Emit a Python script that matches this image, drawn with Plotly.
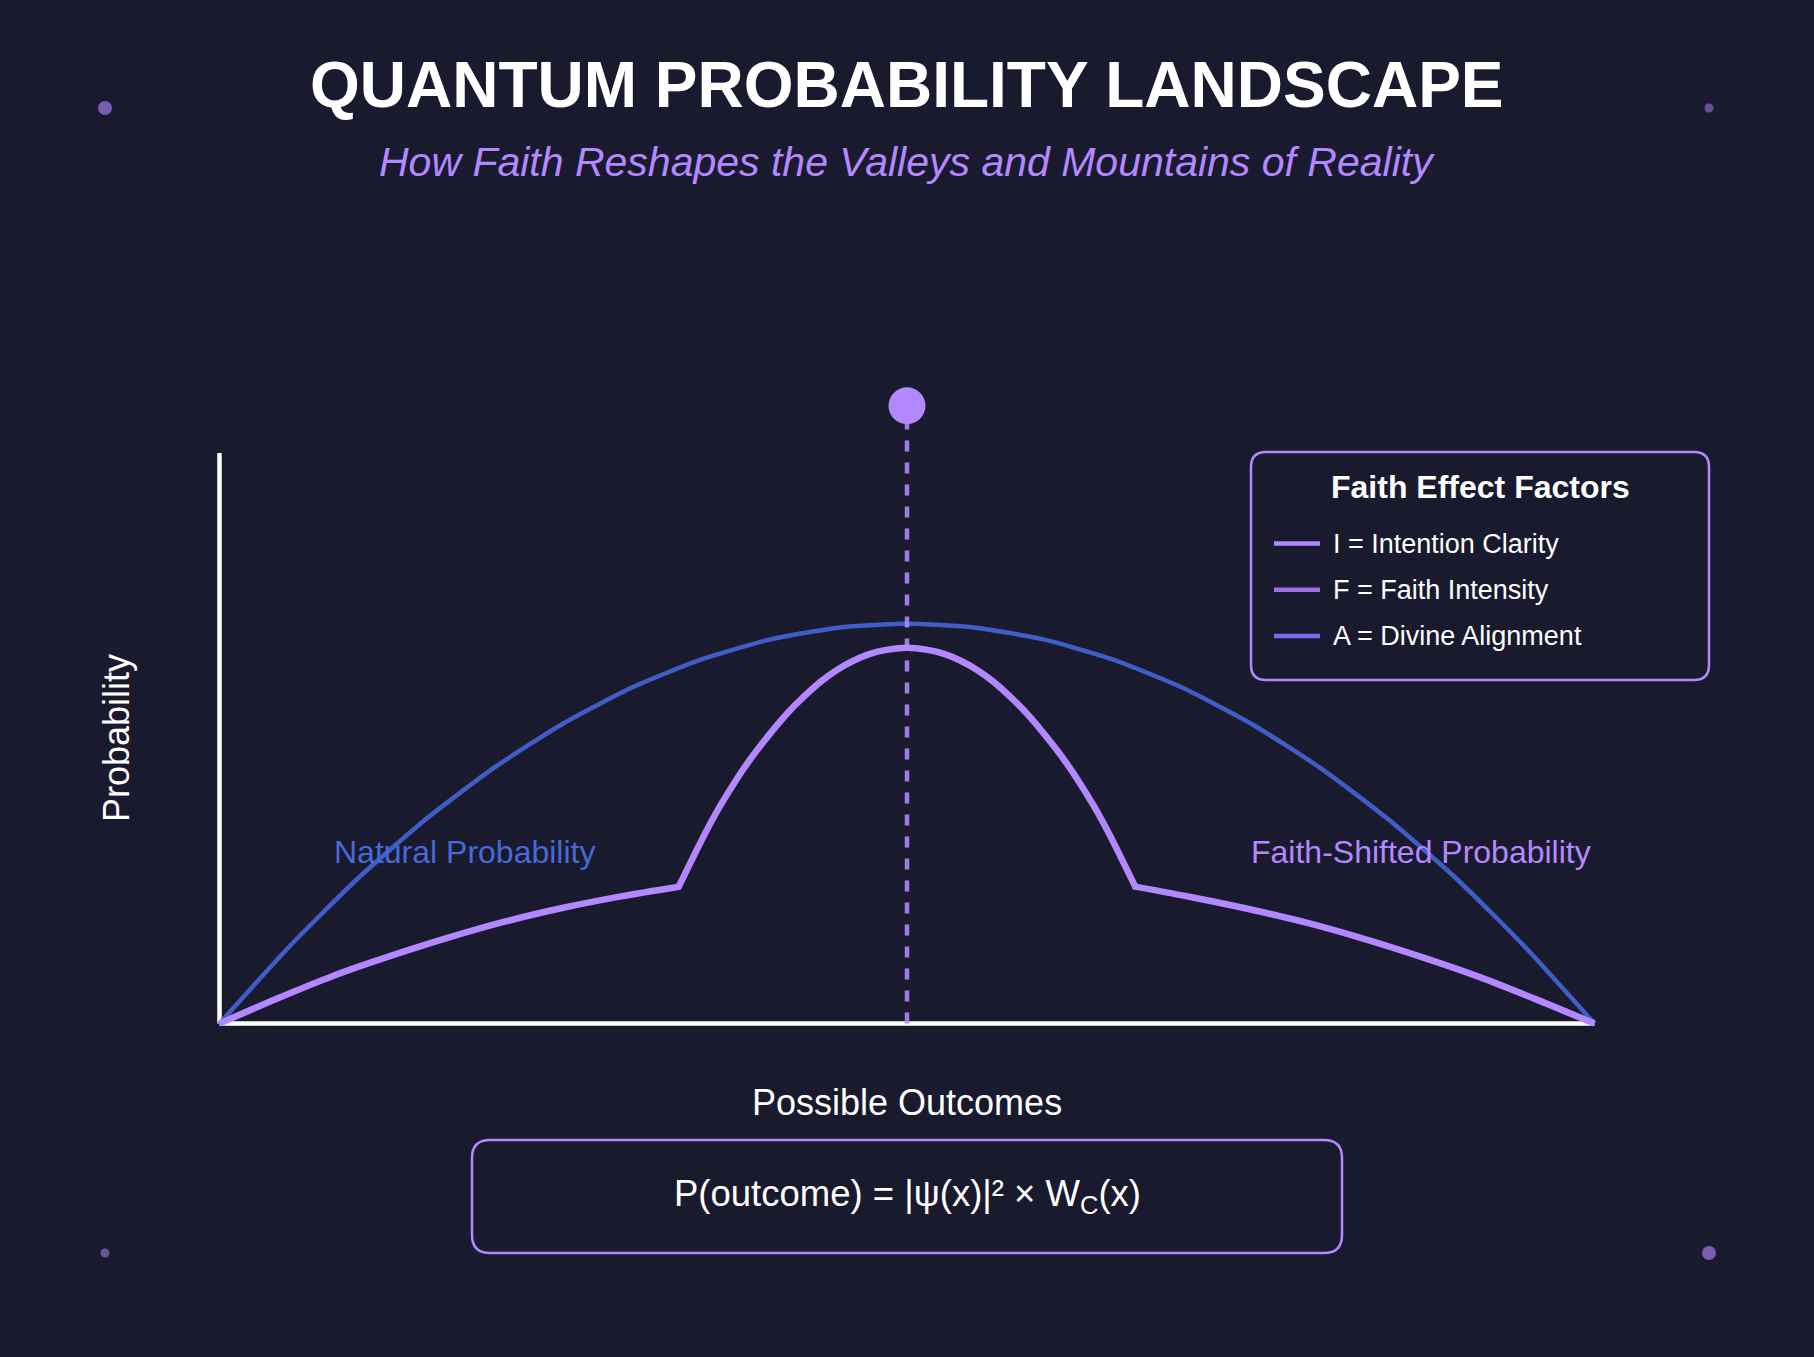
import plotly.graph_objects as go

# ---------------- data ----------------
outcome_x = [0, 5, 10, 15, 20, 25, 30, 35, 40, 45, 50,
             55, 60, 65, 70, 75, 80, 85, 90, 95, 100]
natural_prob = [0, 13.3, 25.3, 35.8, 44.9, 52.6, 58.9, 63.8, 67.3, 69.4, 70.1,
                69.4, 67.3, 63.8, 58.9, 52.6, 44.9, 35.8, 25.3, 13.3, 0]

faith_x = [0, 4.2, 8.3, 12.5, 16.7, 20.8, 25.0, 29.2, 33.4,
           35.2, 36.4, 37.6, 38.8, 40.0, 41.3, 42.5, 43.7, 44.9, 46.1, 47.3, 48.5, 50.0,
           51.5, 52.7, 53.9, 55.1, 56.3, 57.5, 58.7, 60.0, 61.2, 62.4, 63.6, 64.8, 66.6,
           70.8, 75.0, 79.2, 83.3, 87.5, 91.7, 95.8, 100]
faith_prob = [0, 4.4, 8.4, 11.9, 15.1, 17.9, 20.3, 22.3, 24.0,
              32.8, 38.1, 42.8, 47.0, 50.7, 54.4, 57.3, 59.9, 62.0, 63.6, 64.8, 65.5, 65.9,
              65.5, 64.8, 63.6, 62.0, 59.9, 57.3, 54.4, 50.7, 47.0, 42.8, 38.1, 32.8, 24.0,
              22.1, 20.0, 17.6, 14.8, 11.6, 8.1, 4.2, 0]
# indices where the faith curve has sharp kinks (segment boundaries)
faith_kinks = [8, 34]

focus_outcome = 50
focus_level = 108.3

legend_title = "Faith Effect Factors"
legend_labels = ["I = Intention Clarity", "F = Faith Intensity", "A = Divine Alignment"]
legend_colors = ["#b388ff", "#9a73e0", "#7b68ee"]

title_text = "QUANTUM PROBABILITY LANDSCAPE"
subtitle_text = "How Faith Reshapes the Valleys and Mountains of Reality"
formula_text = "P(outcome) = |ψ(x)|² × W<sub>C</sub>(x)"

# ---------------- layout helpers ----------------
W, H = 1814, 1357
ML, MR, MT, MB = 192, 192, 339, 322
PW, PH = W - ML - MR, H - MT - MB
BG = "#1a1a2e"
PURPLE = "#b388ff"
BLUE = "#3f5dc6"
FONT = "Liberation Sans, Arial, Helvetica, sans-serif"


def px(x):
    return (x - ML) / PW


def py(y):
    return (H - MB - y) / PH


def rounded_rect(x0, y0, x1, y1, r):
    pts = [
        ("M", [(x0 + r, y0)]),
        ("L", [(x1 - r, y0)]),
        ("Q", [(x1, y0), (x1, y0 + r)]),
        ("L", [(x1, y1 - r)]),
        ("Q", [(x1, y1), (x1 - r, y1)]),
        ("L", [(x0 + r, y1)]),
        ("Q", [(x0, y1), (x0, y1 - r)]),
        ("L", [(x0, y0 + r)]),
        ("Q", [(x0, y0), (x0 + r, y0)]),
    ]
    s = ""
    for cmd, ps in pts:
        s += cmd + " " + " ".join(f"{px(a):.5f},{py(b):.5f}" for a, b in ps) + " "
    return s + "Z"


fig = go.Figure()

fig.add_trace(go.Scatter(x=outcome_x, y=natural_prob, mode="lines",
                         line=dict(color=BLUE, width=4.5, shape="spline", smoothing=0.6),
                         hoverinfo="skip", showlegend=False))

# faith-shifted curve: smooth segments joined at sharp kinks
bounds = [0] + faith_kinks + [len(faith_x) - 1]
for a, b in zip(bounds[:-1], bounds[1:]):
    fig.add_trace(go.Scatter(x=faith_x[a:b + 1], y=faith_prob[a:b + 1], mode="lines",
                             line=dict(color=PURPLE, width=6.5, shape="spline", smoothing=0.8),
                             hoverinfo="skip", showlegend=False))
fig.add_trace(go.Scatter(x=[faith_x[k] for k in faith_kinks],
                         y=[faith_prob[k] for k in faith_kinks], mode="markers",
                         marker=dict(color=PURPLE, size=6.5, line=dict(width=0)),
                         hoverinfo="skip", showlegend=False))

fig.add_trace(go.Scatter(x=[focus_outcome, focus_outcome], y=[0, focus_level], mode="lines",
                         line=dict(color="rgba(179,136,255,0.88)", width=4.5, dash="11px,11px"),
                         hoverinfo="skip", showlegend=False))
fig.add_trace(go.Scatter(x=[focus_outcome], y=[focus_level], mode="markers",
                         marker=dict(color=PURPLE, size=37, line=dict(width=0)),
                         cliponaxis=False, hoverinfo="skip", showlegend=False))

shapes = []
# axes
shapes.append(dict(type="line", xref="x", yref="y", x0=0, y0=0, x1=0, y1=100,
                   line=dict(color="white", width=4.5), layer="below"))
shapes.append(dict(type="line", xref="x", yref="y", x0=0, y0=0, x1=100, y1=0,
                   line=dict(color="white", width=4.5), layer="below"))
# legend box
shapes.append(dict(type="path", xref="paper", yref="paper",
                   path=rounded_rect(1251, 452, 1709, 680, 15),
                   line=dict(color=PURPLE, width=2.5), fillcolor=BG, layer="below"))
# formula box
shapes.append(dict(type="path", xref="paper", yref="paper",
                   path=rounded_rect(472, 1140, 1342, 1253, 18),
                   line=dict(color=PURPLE, width=2.5), fillcolor=BG, layer="below"))
# legend line samples
for i, c in enumerate(legend_colors):
    yy = 543.5 + i * 46.2
    shapes.append(dict(type="line", xref="paper", yref="paper",
                       x0=px(1274), x1=px(1320), y0=py(yy), y1=py(yy),
                       line=dict(color=c, width=4.5)))
# corner dots
for (cx, cy, r, a) in [(105, 108, 7, 0.62), (1709, 108, 4.5, 0.5),
                       (105, 1253, 4.5, 0.5), (1709, 1253, 7, 0.62)]:
    shapes.append(dict(type="circle", xref="paper", yref="paper",
                       x0=px(cx - r), x1=px(cx + r), y0=py(cy + r), y1=py(cy - r),
                       fillcolor=f"rgba(179,136,255,{a})", line=dict(width=0)))

ann = []
ann.append(dict(text=f"<b>{title_text}</b>", x=px(907), y=py(85), xref="paper", yref="paper",
                showarrow=False, xanchor="center", yanchor="middle",
                font=dict(family=FONT, size=64, color="white")))
ann.append(dict(text=f"<i>{subtitle_text}</i>", x=px(907), y=py(162), xref="paper", yref="paper",
                showarrow=False, xanchor="center", yanchor="middle",
                font=dict(family=FONT, size=41, color=PURPLE)))
ann.append(dict(text="Probability", x=px(116), y=py(738), xref="paper", yref="paper",
                showarrow=False, xanchor="center", yanchor="middle", textangle=-90,
                font=dict(family=FONT, size=36, color="white")))
ann.append(dict(text="Possible Outcomes", x=px(907), y=py(1102), xref="paper", yref="paper",
                showarrow=False, xanchor="center", yanchor="middle",
                font=dict(family=FONT, size=36, color="white")))
ann.append(dict(text=formula_text, x=px(907), y=py(1196), xref="paper", yref="paper",
                showarrow=False, xanchor="center", yanchor="middle",
                font=dict(family=FONT, size=36.5, color="white")))
ann.append(dict(text="Natural Probability", x=17.85, y=30.0, xref="x", yref="y",
                showarrow=False, xanchor="center", yanchor="middle",
                font=dict(family=FONT, size=32, color="#4669d8")))
ann.append(dict(text="Faith-Shifted Probability", x=87.4, y=30.0, xref="x", yref="y",
                showarrow=False, xanchor="center", yanchor="middle",
                font=dict(family=FONT, size=32, color=PURPLE)))
ann.append(dict(text=f"<b>{legend_title}</b>", x=px(1480), y=py(487), xref="paper", yref="paper",
                showarrow=False, xanchor="center", yanchor="middle",
                font=dict(family=FONT, size=32, color="white")))
for i, lab in enumerate(legend_labels):
    yy = 543.5 + i * 46.2
    ann.append(dict(text=lab, x=px(1331), y=py(yy), xref="paper", yref="paper",
                    showarrow=False, xanchor="left", yanchor="middle",
                    font=dict(family=FONT, size=27, color="white")))

fig.update_layout(
    width=W, height=H,
    margin=dict(l=ML, r=MR, t=MT, b=MB, pad=0),
    paper_bgcolor=BG, plot_bgcolor=BG,
    xaxis=dict(range=[-2, 102], visible=False, showgrid=False, zeroline=False, fixedrange=True),
    yaxis=dict(range=[-2, 120], visible=False, showgrid=False, zeroline=False, fixedrange=True),
    shapes=shapes, annotations=ann, showlegend=False,
)

fig.write_html("out.html", config=dict(displayModeBar=False))
